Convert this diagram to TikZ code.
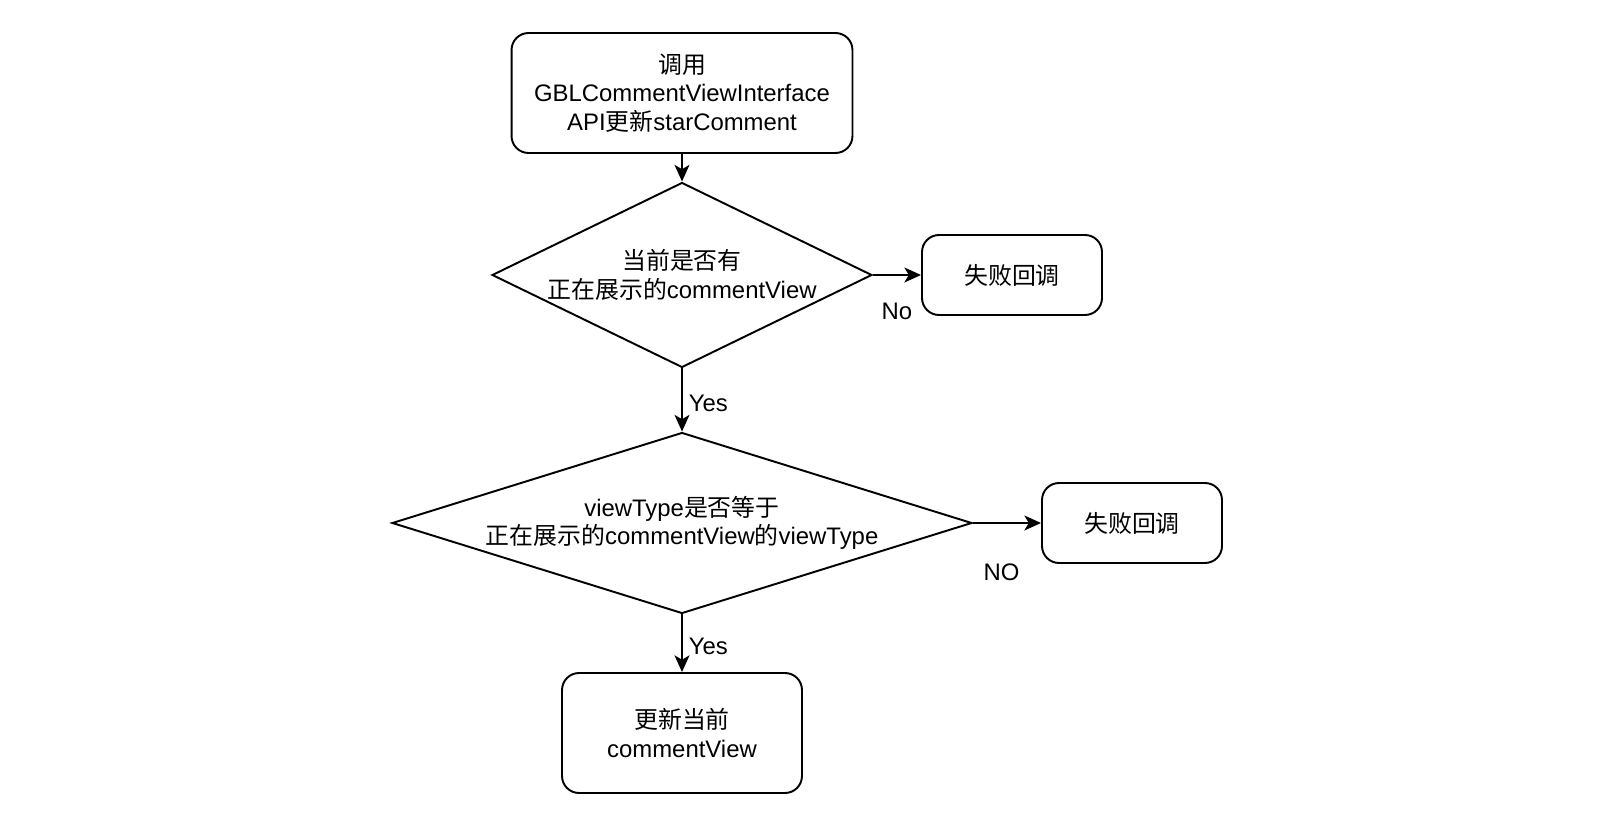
\documentclass[tikz,border=0pt]{standalone}
\usepackage{fontspec}
\setmainfont{Liberation Sans}
\newfontfamily\cjkfont{Noto Sans CJK SC}
\newcommand{\zh}[1]{{\cjkfont #1}}
\newcommand{\flowfont}{\fontsize{13.6}{16.1}\selectfont}
\usetikzlibrary{shapes.geometric, arrows.meta}
\tikzstyle{action} = [rectangle, rounded corners=0.34cm, draw, line width=1.1pt, text centered, align=center, inner sep=0pt, font=\flowfont]
\tikzstyle{decision} = [diamond, draw, line width=1.1pt, text centered, align=center, inner sep=0pt, font=\flowfont]
\tikzstyle{branch} = [font=\flowfont]
\tikzstyle{arrow} = [line width=1.1pt,->,>={Stealth[length=9.5pt, width=8.5pt, inset=2.5pt]}]

\begin{document}
\begin{tikzpicture}[x=0.02cm, y=-0.02cm]
            \useasboundingbox (0,0) rectangle (1612,820);
            \node [action, minimum width=6.82cm, minimum height=2.4cm] at (682,93) (call) {\zh{调用}\\GBLCommentViewInterface\\API\zh{更新}starComment};
            \node [decision, aspect=2.0, minimum width=7.6cm, minimum height=3.6cm] at (682,275) (hasview) {\zh{当前是否有}\\\zh{正在展示的}commentView};
            \node [action, minimum width=3.6cm, minimum height=1.6cm] at (1012,275) (fail1) {\zh{失败回调}};
            \node [decision, aspect=3.2, minimum width=11.6cm, minimum height=3.62cm] at (682,523) (sametype) {viewType\zh{是否等于}\\\zh{正在展示的}commentView\zh{的}viewType};
            \node [action, minimum width=3.6cm, minimum height=1.6cm] at (1132,523) (fail2) {\zh{失败回调}};
            \node [action, minimum width=4.8cm, minimum height=2.4cm] at (682,733) (update) {\zh{更新当前}\\commentView};

            \draw [arrow] (call) -- (hasview);
            \draw [arrow] (hasview) -- node[branch, below=0.43cm] {No} (fail1);
            \draw [arrow] (hasview) -- node[branch, anchor=west, pos=0.55] {Yes} (sametype);
            \draw [arrow] (sametype) -- node[branch, below=0.67cm, pos=0.42] {NO} (fail2);
            \draw [arrow] (sametype) -- node[branch, anchor=west, pos=0.55] {Yes} (update);
\end{tikzpicture}
\end{document}
